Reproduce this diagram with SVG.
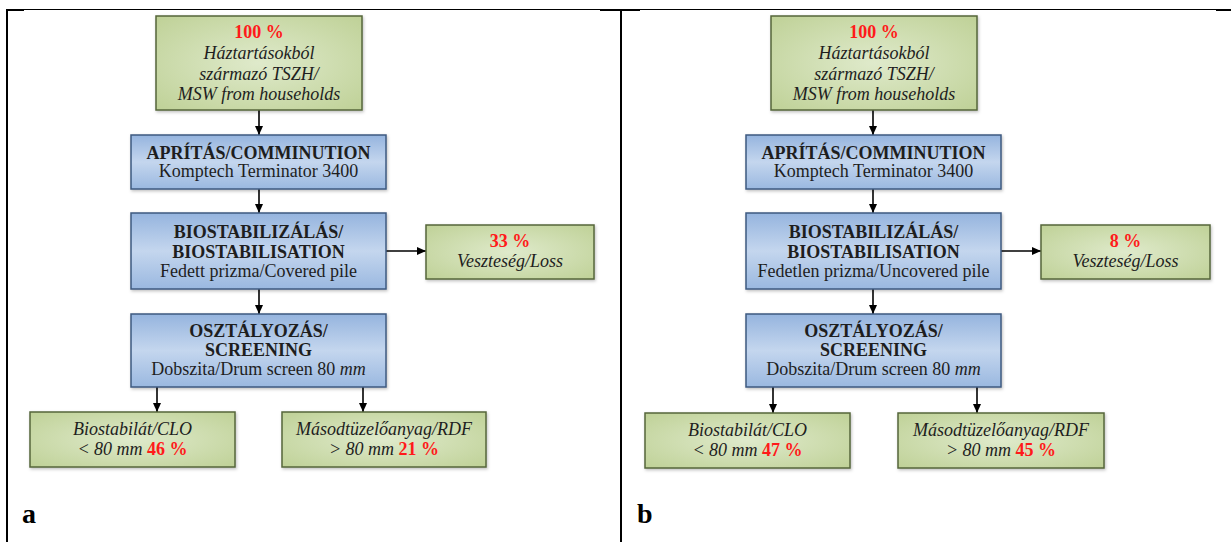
<svg xmlns="http://www.w3.org/2000/svg" width="1231" height="542" viewBox="0 0 1231 542">
<style>
text{font-family:"Liberation Serif","Times New Roman",serif;font-size:18px;fill:#1e1e1e;text-anchor:middle}
.b{font-weight:bold}
.i{font-style:italic}
.r{fill:#ff1a1a;font-weight:bold;font-style:normal}
.g{fill:url(#gg);stroke:#56663a;stroke-width:1.5}
.bl{fill:url(#bg);stroke:#3d5a80;stroke-width:1.5}
.sh{filter:url(#ds)}
.c{stroke:#000;stroke-width:1.6;fill:none;marker-end:url(#ah)}
.lab{font-size:28px;font-weight:bold;text-anchor:start;fill:#000}
</style>
<defs>
<radialGradient id="gg" cx="50%" cy="50%" r="70%">
<stop offset="0" stop-color="#dfeacb"/>
<stop offset="1" stop-color="#bfd197"/>
</radialGradient>
<linearGradient id="bg" x1="0" y1="0" x2="0" y2="1">
<stop offset="0" stop-color="#95b4de"/>
<stop offset="0.5" stop-color="#c4d6ee"/>
<stop offset="1" stop-color="#9ab8e0"/>
</linearGradient>
<filter id="ds" x="-10%" y="-10%" width="120%" height="130%">
<feDropShadow dx="1" dy="1.5" stdDeviation="1.5" flood-color="#000" flood-opacity="0.25"/>
</filter>
<marker id="ah" markerUnits="userSpaceOnUse" markerWidth="9" markerHeight="9" viewBox="0 0 9 9" refX="9" refY="4.5" orient="auto">
<path d="M0,0.5 L9,4.5 L0,8.5 z" fill="#000"/>
</marker>
</defs>

<g id="frame" fill="#000">
<rect x="6" y="9" width="1225" height="1"/>
<rect x="6" y="9" width="18" height="2"/>
<rect x="600" y="9" width="40" height="2"/>
<rect x="1216" y="9" width="15" height="2"/>
<rect x="6" y="9" width="2" height="533"/>
<rect x="620" y="9" width="2" height="533"/>
</g>

<g id="connectors">
<line class="c" x1="259" y1="110" x2="259" y2="135"/>
<line class="c" x1="259" y1="189" x2="259" y2="213"/>
<line class="c" x1="259" y1="289" x2="259" y2="314"/>
<line class="c" x1="386" y1="251" x2="426" y2="251"/>
<line class="c" x1="157" y1="387" x2="157" y2="412"/>
<line class="c" x1="363" y1="387" x2="363" y2="412"/>
<line class="c" x1="873" y1="110" x2="873" y2="135"/>
<line class="c" x1="873" y1="189" x2="873" y2="213"/>
<line class="c" x1="873" y1="289" x2="873" y2="314"/>
<line class="c" x1="1001" y1="251" x2="1041" y2="251"/>
<line class="c" x1="773" y1="387" x2="773" y2="413"/>
<line class="c" x1="977" y1="387" x2="977" y2="413"/>
</g>

<g id="a-source">
<rect class="g sh" x="156" y="16" width="206" height="94"/>
<text x="259" y="38"><tspan class="r">100 %</tspan></text>
<text class="i" x="259" y="59">Háztartásokból</text>
<text class="i" x="259" y="80">származó TSZH/</text>
<text class="i" x="259" y="100">MSW from households</text>
</g>
<g id="a-comminution">
<rect class="bl sh" x="131" y="135" width="255" height="54"/>
<text class="b" x="258.5" y="159">APRÍTÁS/COMMINUTION</text>
<text x="258.5" y="177">Komptech Terminator 3400</text>
</g>
<g id="a-biostab">
<rect class="bl sh" x="131" y="213" width="255" height="76"/>
<text class="b" x="258.5" y="238">BIOSTABILIZÁLÁS/</text>
<text class="b" x="258.5" y="258">BIOSTABILISATION</text>
<text x="258.5" y="277">Fedett prizma/Covered pile</text>
</g>
<g id="a-loss">
<rect class="g sh" x="426" y="225" width="168" height="54"/>
<text class="r" x="510" y="247">33 %</text>
<text class="i" x="510" y="267">Veszteség/Loss</text>
</g>
<g id="a-screening">
<rect class="bl sh" x="131" y="314" width="255" height="73"/>
<text class="b" x="258.5" y="337">OSZTÁLYOZÁS/</text>
<text class="b" x="258.5" y="356">SCREENING</text>
<text x="258.5" y="375">Dobszita/Drum screen 80 <tspan class="i">mm</tspan></text>
</g>
<g id="a-clo">
<rect class="g sh" x="30" y="412" width="205" height="55"/>
<text class="i" x="132.5" y="435">Biostabilát/CLO</text>
<text class="i" x="132.5" y="455">&lt; 80 mm <tspan class="r">46 %</tspan></text>
</g>
<g id="a-rdf">
<rect class="g sh" x="282" y="412" width="204" height="55"/>
<text class="i" x="384" y="435">Másodtüzelőanyag/RDF</text>
<text class="i" x="384" y="455">&gt; 80 mm <tspan class="r">21 %</tspan></text>
</g>
<g id="label-a"><text class="lab" x="22" y="523">a</text></g>

<g id="b-source">
<rect class="g sh" x="771" y="16" width="206" height="94"/>
<text x="874" y="38"><tspan class="r">100 %</tspan></text>
<text class="i" x="874" y="59">Háztartásokból</text>
<text class="i" x="874" y="80">származó TSZH/</text>
<text class="i" x="874" y="100">MSW from households</text>
</g>
<g id="b-comminution">
<rect class="bl sh" x="746" y="135" width="255" height="54"/>
<text class="b" x="873.5" y="159">APRÍTÁS/COMMINUTION</text>
<text x="873.5" y="177">Komptech Terminator 3400</text>
</g>
<g id="b-biostab">
<rect class="bl sh" x="746" y="213" width="255" height="76"/>
<text class="b" x="873.5" y="238">BIOSTABILIZÁLÁS/</text>
<text class="b" x="873.5" y="258">BIOSTABILISATION</text>
<text x="873.5" y="277">Fedetlen prizma/Uncovered pile</text>
</g>
<g id="b-loss">
<rect class="g sh" x="1041" y="225" width="169" height="54"/>
<text class="r" x="1125.5" y="247">8 %</text>
<text class="i" x="1125.5" y="267">Veszteség/Loss</text>
</g>
<g id="b-screening">
<rect class="bl sh" x="746" y="314" width="255" height="73"/>
<text class="b" x="873.5" y="337">OSZTÁLYOZÁS/</text>
<text class="b" x="873.5" y="356">SCREENING</text>
<text x="873.5" y="375">Dobszita/Drum screen 80 <tspan class="i">mm</tspan></text>
</g>
<g id="b-clo">
<rect class="g sh" x="645" y="413" width="205" height="55"/>
<text class="i" x="747.5" y="436">Biostabilát/CLO</text>
<text class="i" x="747.5" y="456">&lt; 80 mm <tspan class="r">47 %</tspan></text>
</g>
<g id="b-rdf">
<rect class="g sh" x="898" y="413" width="206" height="55"/>
<text class="i" x="1001" y="436">Másodtüzelőanyag/RDF</text>
<text class="i" x="1001" y="456">&gt; 80 mm <tspan class="r">45 %</tspan></text>
</g>
<g id="label-b"><text class="lab" x="637" y="523">b</text></g>
</svg>
